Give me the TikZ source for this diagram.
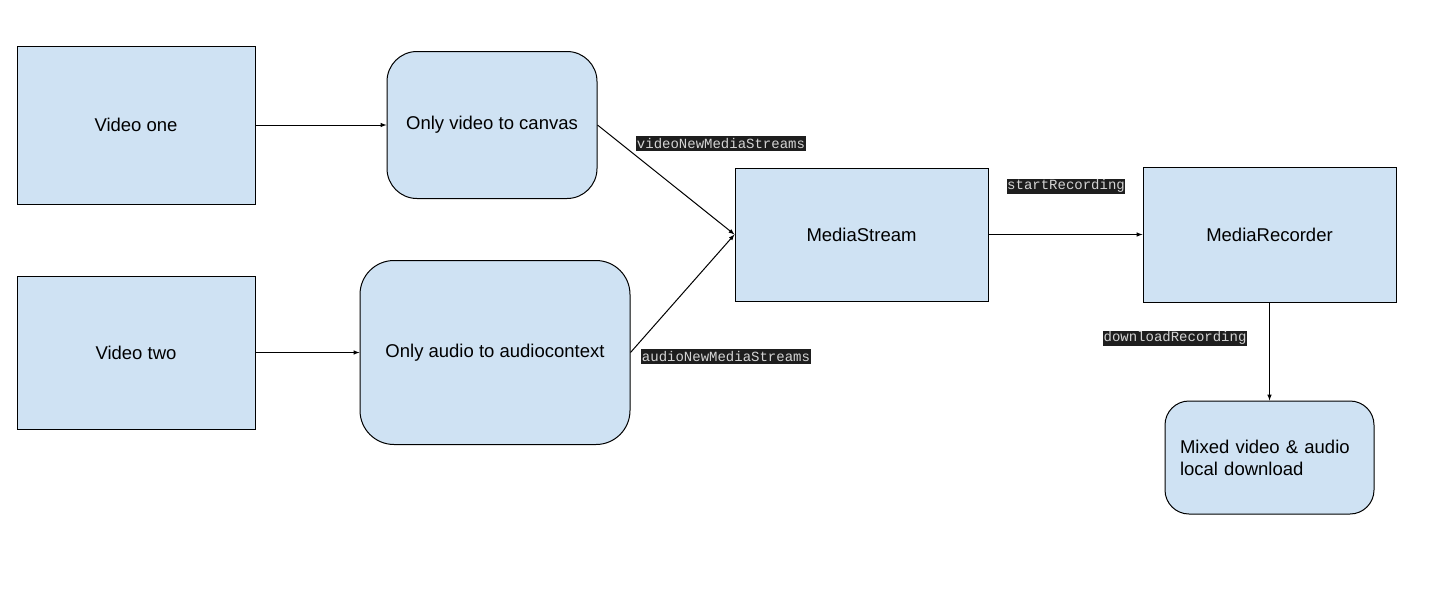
\documentclass[tikz,border=0pt]{standalone}
\usepackage{fontspec}
\setmainfont{Liberation Sans}
\newfontfamily\codefont{Liberation Mono}
\usepackage{xcolor}
\usepackage{tikz}
\usetikzlibrary{arrows}
\usetikzlibrary{positioning}

\definecolor{boxblue}{HTML}{CFE2F3}
\definecolor{codebg}{HTML}{1E1E1E}
\definecolor{codefg}{HTML}{D4D4D4}

\begin{document}
\begin{tikzpicture}[x=1pt,y=-1pt]
    \tikzstyle{every node}=[font=\fontsize{18.5}{22}\selectfont]
    \tikzstyle{every path}=[line width=1pt]
    \tikzstyle{box}=[draw=black,fill=boxblue,align=center]
    \tikzstyle{rbox}=[box,rounded corners=30pt]
    \tikzstyle{code}=[fill=codebg,text=codefg,font=\codefont\fontsize{14}{15}\selectfont,inner xsep=0.5pt,inner ysep=0pt,minimum height=15pt]

    \useasboundingbox (0,0) rectangle (1434,598) ;

    \node[box,minimum width=238pt,minimum height=158pt] (vone) at (136,125) {Video one} ;
    \node[box,minimum width=238pt,minimum height=153pt] (vtwo) at (136,352.5) {Video two} ;
    \node[rbox,minimum width=210pt,minimum height=147pt] (canvas) at (492,125) {Only video to canvas} ;
    \node[rbox,minimum width=270pt,minimum height=184pt,rounded corners=34pt] (audio) at (495,352.5) {Only audio to audiocontext} ;
    \node[box,minimum width=253pt,minimum height=133pt] (stream) at (861.5,234.5) {MediaStream} ;
    \node[box,minimum width=253pt,minimum height=135pt] (recorder) at (1269.5,234.5) {MediaRecorder} ;
    \node[rbox,text width=179pt,inner xsep=15pt,minimum height=113pt,align=left,rounded corners=24pt] (download) at (1269.5,457.5) {Mixed video \& audio\\local download} ;

    \node[code] (vlabel) at (721,143.5) {videoNewMediaStreams} ;
    \node[code] (alabel) at (726,356.5) {audioNewMediaStreams} ;
    \node[code] (slabel) at (1066,186) {startRecording} ;
    \node[code] (dlabel) at (1175,338) {downloadRecording} ;

    \draw[-latex] (vone.east) -- (canvas.west) ;
    \draw[-latex] (vtwo.east) -- (audio.west) ;
    \draw[-latex] (canvas.east) -- (stream.west) ;
    \draw[-latex] (audio.east) -- (stream.west) ;
    \draw[-latex] (stream.east) -- (recorder.west) ;
    \draw[-latex] (recorder.south) -- (download.north) ;

\end{tikzpicture}
\end{document}
